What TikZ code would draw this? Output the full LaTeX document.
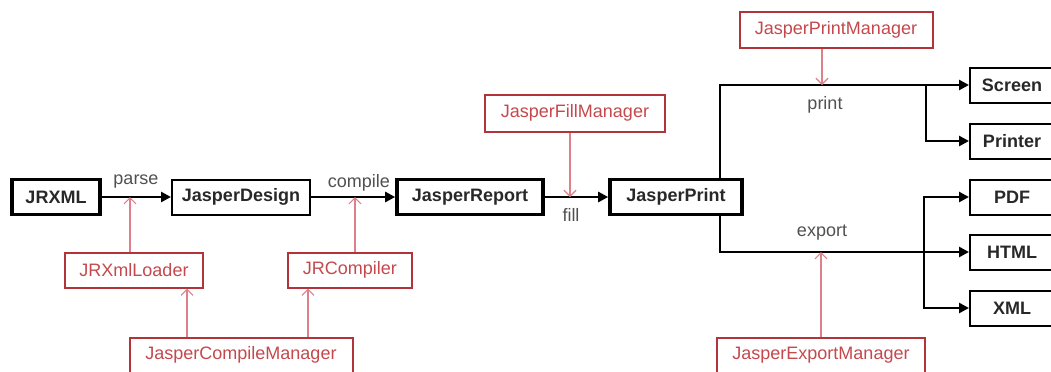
\documentclass[tikz,border=0pt]{standalone}
\usepackage{fontspec}
\setmainfont{Liberation Sans}
\usetikzlibrary{arrows.meta,calc}
\definecolor{mgrred}{RGB}{176,52,58}
\definecolor{mgrtext}{RGB}{196,72,76}
\definecolor{mgrline}{RGB}{222,128,138}
\definecolor{boxtext}{RGB}{40,40,40}
\definecolor{verbtext}{RGB}{80,80,80}
\tikzset{
  jbox/.style={draw=black, line width=1pt, minimum height=17.5pt, inner sep=0pt,
    font=\fontsize{9}{10}\selectfont\bfseries, text=boxtext},
  jboxthick/.style={jbox, line width=1.8pt},
  mgrbox/.style={draw=mgrred, line width=1pt, minimum height=17.5pt, inner sep=0pt,
    font=\fontsize{9}{10}\selectfont, text=mgrtext},
  flow/.style={line width=1.4pt, -{Triangle[length=5pt,width=5pt]}},
  mgrarrow/.style={draw=mgrline, line width=0.6pt, -{Straight Barb[length=3pt,width=6pt]}},
  verb/.style={font=\fontsize{9}{10}\selectfont, text=verbtext, inner sep=0pt}
}

\begin{document}
\begin{tikzpicture}[x=0.5pt, y=-0.5pt]
		%%%%% START %%%%%
		\useasboundingbox (0,0) rectangle (1051,371);
		
		% main chain
		\node[jboxthick, minimum width=44pt] (jrxml) at (56,197) {JRXML};
		\node[jbox, minimum width=69pt] (design) at (241,197) {JasperDesign};
		\node[jboxthick, minimum width=73pt] (report) at (470,197) {JasperReport};
		\node[jboxthick, minimum width=66pt] (print) at (676,197) {JasperPrint};
		
		% outputs
		\node[jbox, minimum width=42pt] (screen) at (1012,85) {Screen};
		\node[jbox, minimum width=42pt] (printer) at (1012,141) {Printer};
		\node[jbox, minimum width=42pt] (pdf) at (1012,197) {PDF};
		\node[jbox, minimum width=42pt] (html) at (1012,252) {HTML};
		\node[jbox, minimum width=42pt] (xml) at (1012,308) {XML};
		
		% managers
		\node[mgrbox, minimum width=69pt] (loader) at (134,270) {JRXmlLoader};
		\node[mgrbox, minimum width=62pt] (compiler) at (350,270) {JRCompiler};
		\node[mgrbox, minimum width=111.5pt] (cmgr) at (241,355) {JasperCompileManager};
		\node[mgrbox, minimum width=90pt, minimum height=18.5pt] (fillmgr) at (575,113) {JasperFillManager};
		\node[mgrbox, minimum width=96.5pt, minimum height=18pt] (printmgr) at (836,30) {JasperPrintManager};
		\node[mgrbox, minimum width=104pt] (exportmgr) at (821,355) {JasperExportManager};
		
		% verbs
		\node[verb] (parse) at (136,182) {parse};
		\node[verb] (compile) at (359,183) {compile};
		\node[verb] (fill) at (571,215) {fill};
		\node[verb] (printlbl) at (825,105) {print};
		\node[verb] (export) at (822,233) {export};
		
		\draw[flow] (jrxml) -- (design);
		\draw[flow] (design) -- (report);
		\draw[flow] (report) -- (print);
		
		\coordinate (pn) at ([xshift=22pt]print.north);
		\coordinate (ps) at ([xshift=22pt]print.south);
		\coordinate (sb) at ($(screen.west)+(-21.5pt,0)$);
		\coordinate (eb) at ($(html.west)+(-22.5pt,0)$);
		\draw[flow] (pn) |- (screen.west);
		\draw[flow] (sb) |- (printer.west);
		\draw[flow] (ps) |- (html.west);
		\draw[flow] (eb) |- (pdf.west);
		\draw[flow] (eb) |- (xml.west);
		
		% manager arrows
		\coordinate (la) at ([xshift=26.5pt]loader.south);
		\coordinate (ca) at ([xshift=-21pt]compiler.south);
		\coordinate (fa) at ([xshift=-2.5pt]fillmgr.south);
		\coordinate (pa) at ([xshift=-7pt]printmgr.south);
		\draw[mgrarrow] ([xshift=-2pt]loader.north) -- ([xshift=-2pt]loader.north |- jrxml.east);
		\draw[mgrarrow] ([xshift=2.5pt]compiler.north) -- ([xshift=2.5pt]compiler.north |- design.east);
		\draw[mgrarrow] (la |- cmgr.north) -- (la);
		\draw[mgrarrow] (ca |- cmgr.north) -- (ca);
		\draw[mgrarrow] (fa) -- (fa |- report.east);
		\draw[mgrarrow] (pa) -- (pa |- screen.west);
		\draw[mgrarrow] (exportmgr.north) -- (exportmgr.north |- html.west);
		
		%%%%% END %%%%%
\end{tikzpicture}
\end{document}
